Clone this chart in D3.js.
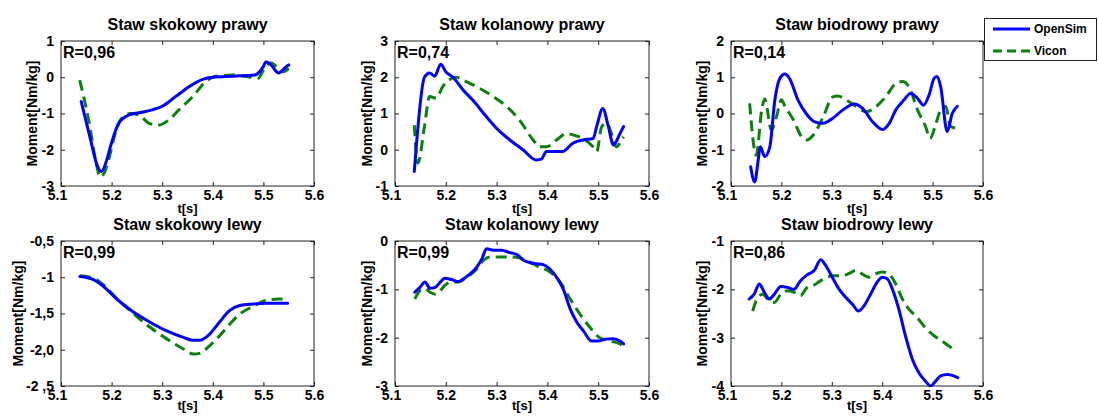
<!DOCTYPE html>
<html><head><meta charset="utf-8">
<script src="https://cdn.jsdelivr.net/npm/d3@7"></script>
<style>
html,body{margin:0;padding:0;background:#fff;}
svg{display:block;font-family:"Liberation Sans",Arial,sans-serif;font-weight:bold;}
</style></head>
<body><svg id="c" width="1098" height="419"></svg>
<script>
// ---------- data ----------
const titles = ["Staw skokowy prawy","Staw kolanowy prawy","Staw biodrowy prawy",
                "Staw skokowy lewy","Staw kolanowy lewy","Staw biodrowy lewy"];
const rLabels = ["R=0,96","R=0,74","R=0,14","R=0,99","R=0,99","R=0,86"];
const seriesNames = ["OpenSim","Vicon"];
const xTicks = [5.1,5.2,5.3,5.4,5.5,5.6];
const xTickLabels = ["5.1","5.2","5.3","5.4","5.5","5.6"];
const yDomains = [[-3,1],[-1,3],[-2,2],[-2.5,-0.5],[-3,0],[-4,-1]];
const yTicks = [[-3,-2,-1,0,1],[-1,0,1,2,3],[-2,-1,0,1,2],[-2.5,-2,-1.5,-1,-0.5],[-3,-2,-1,0],[-4,-3,-2,-1]];
const yTickLabels = [["-3","-2","-1","0","1"],["-1","0","1","2","3"],["-2","-1","0","1","2"],
                     ["-2 ,5","-2,0","-1,5","-1","-0,5"],["-3","-2","-1","0"],["-4","-3","-2","-1"]];

// Staw skokowy prawy
const ankleR_openT = [5.14,5.158,5.172,5.18,5.19,5.2,5.214,5.234,5.254,5.28,5.3,5.326,5.353,5.38,5.4,5.44,5.483,5.5,5.505,5.515,5.53,5.545,5.55];
const ankleR_open  = [-0.67,-1.7,-2.45,-2.6,-2.3,-1.8,-1.27,-1.04,-0.98,-0.9,-0.8,-0.54,-0.26,-0.06,0,0.03,0.06,0.3,0.43,0.34,0.12,0.29,0.34];
const ankleR_viconT = [5.137,5.155,5.17,5.177,5.185,5.194,5.207,5.22,5.237,5.254,5.274,5.293,5.313,5.333,5.36,5.386,5.406,5.44,5.466,5.49,5.5,5.515,5.526,5.54,5.55];
const ankleR_vicon  = [-0.08,-1.2,-2.4,-2.75,-2.65,-2.28,-1.55,-1.13,-1.0,-1.04,-1.27,-1.32,-1.18,-0.9,-0.54,-0.12,0.03,0.06,0.02,-0.03,0.2,0.4,0.29,0.15,0.25];

// Staw kolanowy prawy
const kneeR_openT = [5.138,5.158,5.168,5.178,5.19,5.2,5.214,5.234,5.253,5.28,5.3,5.326,5.352,5.378,5.388,5.398,5.411,5.43,5.45,5.47,5.49,5.497,5.509,5.52,5.53,5.543,5.55];
const kneeR_open  = [-0.6,2.0,2.12,2.03,2.36,2.15,2.0,1.65,1.37,0.91,0.59,0.27,0.0,-0.28,-0.26,-0.05,-0.05,-0.05,0.18,0.27,0.31,0.64,1.14,0.64,0.13,0.45,0.64];
const kneeR_viconT = [5.138,5.145,5.158,5.168,5.181,5.194,5.207,5.22,5.24,5.266,5.293,5.32,5.345,5.372,5.385,5.398,5.418,5.438,5.45,5.47,5.49,5.497,5.507,5.517,5.526,5.536,5.546,5.55];
const kneeR_vicon  = [0.68,-0.37,0.64,1.47,1.42,1.74,1.93,2.0,1.88,1.7,1.47,1.19,0.82,0.27,0.08,0.08,0.27,0.45,0.41,0.31,0.08,-0.05,0.64,0.73,0.45,0.08,0.27,0.36];

// Staw biodrowy prawy
const hipR_openT = [5.139,5.147,5.154,5.158,5.167,5.177,5.187,5.197,5.207,5.216,5.233,5.249,5.266,5.282,5.302,5.322,5.345,5.361,5.381,5.4,5.414,5.427,5.443,5.456,5.47,5.482,5.493,5.503,5.509,5.516,5.529,5.539,5.549];
const hipR_open  = [-1.47,-1.89,-1.28,-0.92,-1.19,-0.92,0.37,0.97,1.09,0.97,0.37,0.0,-0.23,-0.27,-0.13,0.1,0.26,0.14,-0.23,-0.44,-0.27,0.1,0.37,0.55,0.42,0.23,0.51,0.97,1.02,0.74,-0.5,0.0,0.2];
const hipR_viconT = [5.137,5.15,5.161,5.167,5.18,5.19,5.2,5.207,5.224,5.24,5.25,5.263,5.283,5.302,5.312,5.329,5.349,5.368,5.388,5.407,5.427,5.44,5.453,5.47,5.486,5.495,5.505,5.516,5.526,5.536,5.546,5.549];
const hipR_vicon  = [0.28,-1.15,0.1,0.4,-0.45,-0.1,0.38,0.2,-0.18,-0.64,-0.73,-0.6,-0.09,0.46,0.48,0.37,0.19,0.05,0.19,0.46,0.83,0.88,0.74,0.1,-0.36,-0.69,-0.36,0.1,0.19,-0.36,-0.4,-0.27];

// Staw skokowy lewy
const ankleL_openT = [5.1375,5.163,5.183,5.21,5.243,5.276,5.309,5.342,5.361,5.374,5.393,5.413,5.433,5.453,5.48,5.505,5.53,5.548];
const ankleL_open  = [-0.99,-1.03,-1.12,-1.3,-1.48,-1.62,-1.74,-1.83,-1.87,-1.87,-1.79,-1.62,-1.46,-1.39,-1.37,-1.36,-1.36,-1.36];
const ankleL_viconT = [5.1375,5.163,5.183,5.21,5.243,5.276,5.309,5.342,5.362,5.374,5.393,5.413,5.433,5.453,5.48,5.505,5.53,5.54];
const ankleL_vicon  = [-0.98,-1.01,-1.1,-1.29,-1.5,-1.69,-1.85,-1.99,-2.06,-2.05,-1.95,-1.81,-1.65,-1.51,-1.4,-1.32,-1.3,-1.3];

// Staw kolanowy lewy
const kneeL_openT = [5.139,5.149,5.159,5.169,5.179,5.189,5.198,5.212,5.225,5.235,5.248,5.261,5.271,5.28,5.294,5.31,5.326,5.34,5.353,5.366,5.379,5.392,5.405,5.418,5.431,5.445,5.458,5.471,5.487,5.5,5.513,5.53,5.543,5.55];
const kneeL_open  = [-1.06,-0.96,-0.85,-0.98,-0.96,-0.85,-0.77,-0.8,-0.84,-0.78,-0.68,-0.54,-0.37,-0.16,-0.19,-0.19,-0.24,-0.28,-0.4,-0.45,-0.47,-0.49,-0.58,-0.75,-0.99,-1.41,-1.68,-1.86,-2.07,-2.07,-2.03,-2.02,-2.07,-2.13];
const kneeL_viconT = [5.139,5.149,5.159,5.169,5.179,5.189,5.198,5.212,5.225,5.241,5.261,5.274,5.287,5.307,5.326,5.346,5.366,5.385,5.405,5.425,5.445,5.464,5.484,5.503,5.523,5.543,5.55];
const kneeL_vicon  = [-1.2,-1.03,-0.98,-1.06,-1.1,-1.03,-0.92,-0.85,-0.85,-0.75,-0.58,-0.4,-0.33,-0.33,-0.33,-0.35,-0.44,-0.54,-0.64,-0.85,-1.2,-1.51,-1.79,-2.0,-2.07,-2.13,-2.2];

// Staw biodrowy lewy
const hipL_openT = [5.136,5.146,5.156,5.166,5.176,5.186,5.199,5.212,5.225,5.238,5.251,5.265,5.278,5.288,5.301,5.314,5.328,5.341,5.353,5.364,5.377,5.39,5.4,5.41,5.42,5.433,5.446,5.46,5.473,5.486,5.496,5.506,5.516,5.529,5.542,5.55];
const hipL_open  = [-2.2,-2.1,-1.89,-2.06,-2.2,-2.1,-1.94,-1.96,-2.0,-1.82,-1.7,-1.61,-1.39,-1.51,-1.75,-1.99,-2.17,-2.31,-2.45,-2.34,-2.1,-1.85,-1.75,-1.78,-1.99,-2.41,-2.96,-3.45,-3.73,-3.9,-4.0,-3.9,-3.79,-3.76,-3.79,-3.83];
const hipL_viconT = [5.143,5.153,5.163,5.176,5.186,5.199,5.212,5.225,5.238,5.251,5.265,5.278,5.291,5.304,5.32,5.337,5.347,5.36,5.374,5.387,5.4,5.413,5.427,5.44,5.453,5.47,5.486,5.503,5.519,5.532,5.546];
const hipL_vicon  = [-2.45,-2.17,-2.1,-2.24,-2.27,-2.1,-2.03,-2.06,-2.13,-1.96,-1.91,-1.82,-1.75,-1.72,-1.72,-1.66,-1.61,-1.68,-1.75,-1.68,-1.64,-1.68,-1.89,-2.2,-2.41,-2.59,-2.8,-2.96,-3.07,-3.17,-3.28];

const openT = [ankleR_openT,kneeR_openT,hipR_openT,ankleL_openT,kneeL_openT,hipL_openT];
const openV = [ankleR_open,kneeR_open,hipR_open,ankleL_open,kneeL_open,hipL_open];
const viconT = [ankleR_viconT,kneeR_viconT,hipR_viconT,ankleL_viconT,kneeL_viconT,hipL_viconT];
const viconV = [ankleR_vicon,kneeR_vicon,hipR_vicon,ankleL_vicon,kneeL_vicon,hipL_vicon];

// ---------- layout ----------
const colL = [61,395,731], colR = [314,649,983];
const rowT = [41,241], rowB = [186,386];
const yLabelOff = [-29,-28,-29,-43,-28,-29];
const xLabelOff = [22,19];
const BLUE = "#0000ff", GREEN = "#0b800b", INK = "#222";

const svg = d3.select("#c");

for (let k = 0; k < 6; k++) {
  const r = Math.floor(k/3), c = k%3;
  const L = colL[c], R = colR[c], T = rowT[r], B = rowB[r];
  const x = d3.scaleLinear().domain([5.1,5.6]).range([L,R]);
  const y = d3.scaleLinear().domain(yDomains[k]).range([B,T]);
  const g = svg.append("g");

  g.append("rect").attr("x",L).attr("y",T).attr("width",R-L).attr("height",B-T)
    .attr("fill","#fff").attr("stroke",INK).attr("stroke-width",1);

  const ax = g.append("g").attr("transform",`translate(0,${B})`)
    .call(d3.axisBottom(x).tickValues(xTicks).tickSize(-4).tickPadding(4)
      .tickFormat((d,i)=>xTickLabels[i]));
  ax.selectAll("text").filter((d,i)=>i===0).attr("dx",-4);
  const axT = g.append("g").attr("transform",`translate(0,${T})`)
    .call(d3.axisTop(x).tickValues(xTicks).tickSize(-4).tickFormat(""));
  const ay = g.append("g").attr("transform",`translate(${L},0)`)
    .call(d3.axisLeft(y).tickValues(yTicks[k]).tickSize(-4).tickPadding(7)
      .tickFormat((d,i)=>yTickLabels[k][i]));
  const ayR = g.append("g").attr("transform",`translate(${R},0)`)
    .call(d3.axisRight(y).tickValues(yTicks[k]).tickSize(-4).tickFormat(""));
  [ax,axT,ay,ayR].forEach(a=>{
    a.select(".domain").remove();
    a.selectAll("line").attr("stroke",INK);
    a.selectAll("text").attr("fill","#000").style("font-size","14px").style("font-weight","bold")
      .style("font-family","'Liberation Sans',Arial,sans-serif");
  });

  const lineFn = (ts) => d3.line().x((d,i)=>x(ts[i])).y(d=>y(d)).curve(d3.curveMonotoneX);
  const clipId = "clip"+k;
  g.append("clipPath").attr("id",clipId).append("rect")
    .attr("x",L-1).attr("y",T-1).attr("width",R-L+2).attr("height",B-T+2);
  const lg = g.append("g").attr("clip-path",`url(#${clipId})`);
  lg.append("path").datum(viconV[k]).attr("d",lineFn(viconT[k]))
    .attr("fill","none").attr("stroke",GREEN).attr("stroke-width",3)
    .attr("stroke-dasharray","11,6").attr("stroke-linejoin","round");
  lg.append("path").datum(openV[k]).attr("d",lineFn(openT[k]))
    .attr("fill","none").attr("stroke",BLUE).attr("stroke-width",3)
    .attr("stroke-linejoin","round").attr("stroke-linecap","round");

  g.append("text").attr("x",(L+R)/2).attr("y",T-11).attr("text-anchor","middle")
    .style("font-size","16px").text(titles[k]);
  g.append("text").attr("x",L+2).attr("y",T+17).style("font-size","16px").text(rLabels[k]);
  g.append("text").attr("transform",`translate(${L+yLabelOff[k]},${(T+B)/2}) rotate(-90)`)
    .attr("text-anchor","middle").attr("dy","0.35em").style("font-size","14px").text("Moment[Nm/kg]");
  g.append("text").attr("x",(L+R)/2).attr("y",B+xLabelOff[r]).attr("dy","0.35em")
    .attr("text-anchor","middle").style("font-size","13px").text("t[s]");
}

// legend
const leg = svg.append("g");
leg.append("rect").attr("x",984.5).attr("y",18.5).attr("width",112).attr("height",42)
  .attr("fill","#fff").attr("stroke",INK).attr("stroke-width",1);
const legY = [29,51];
const legColors = [BLUE,GREEN];
const legDash = [null,"9,5"];
seriesNames.forEach((n,i)=>{
  leg.append("line").attr("x1",993).attr("x2",1030).attr("y1",legY[i]).attr("y2",legY[i])
    .attr("stroke",legColors[i]).attr("stroke-width",3).attr("stroke-dasharray",legDash[i]);
  leg.append("text").attr("x",1034).attr("y",legY[i]+4).style("font-size","12px").text(n);
});
</script></body></html>
